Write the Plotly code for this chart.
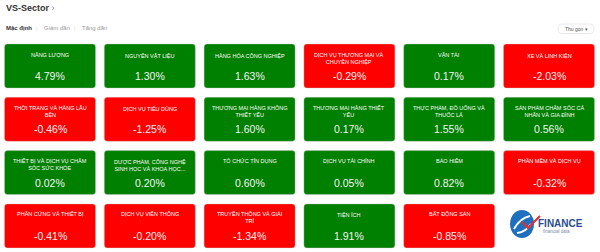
import plotly.graph_objects as go

# ---------------- data ----------------
sectors = [
    "NĂNG LƯỢNG", "NGUYÊN VẬT LIỆU", "HÀNG HÓA CÔNG NGHIỆP",
    "DỊCH VỤ THƯƠNG MẠI VÀ<br>CHUYÊN NGHIỆP", "VẬN TẢI", "XE VÀ LINH KIỆN",
    "THỜI TRANG VÀ HÀNG LÂU<br>BỀN", "DỊCH VỤ TIÊU DÙNG", "THƯƠNG MẠI HÀNG KHÔNG<br>THIẾT YẾU",
    "THƯƠNG MẠI HÀNG THIẾT<br>YẾU", "THỰC PHẨM, ĐỒ UỐNG VÀ<br>THUỐC LÁ", "SẢN PHẨM CHĂM SÓC CÁ<br>NHÂN VÀ GIA ĐÌNH",
    "THIẾT BỊ VÀ DỊCH VỤ CHĂM<br>SÓC SỨC KHỎE", "DƯỢC PHẨM, CÔNG NGHỆ<br>SINH HỌC VÀ KHOA HỌC...", "TỔ CHỨC TÍN DỤNG",
    "DỊCH VỤ TÀI CHÍNH", "BẢO HIỂM", "PHẦN MỀM VÀ DỊCH VỤ",
    "PHẦN CỨNG VÀ THIẾT BỊ", "DỊCH VỤ VIỄN THÔNG", "TRUYỀN THÔNG VÀ GIẢI<br>TRÍ",
    "TIỆN ÍCH", "BẤT ĐỘNG SẢN",
]
changes = [
    4.79, 1.30, 1.63, -0.29, 0.17, -2.03,
    -0.46, -1.25, 1.60, 0.17, 1.55, 0.56,
    0.02, 0.20, 0.60, 0.05, 0.82, -0.32,
    -0.41, -0.20, -1.34, 1.91, -0.85,
]
title_text = "VS-Sector"
tabs = ["Mặc định", "Giảm dần", "Tăng dần"]
dropdown_text = "Thu gọn ▾"

# ---------------- layout constants ----------------
W, H = 600, 252
NCOLS = 6
X0, PX, TW = 4.5, 99.8, 91
Y0, PY, TH = 44, 53.3, 44
RAD = 3
GREEN = "#008000"
RED = "#ff0000"
FONT = "Liberation Sans, Arial, sans-serif"


def rrect(x0, y0, x1, y1, r):
    return (f"M{x0+r},{y0} L{x1-r},{y0} Q{x1},{y0} {x1},{y0+r} "
            f"L{x1},{y1-r} Q{x1},{y1} {x1-r},{y1} L{x0+r},{y1} "
            f"Q{x0},{y1} {x0},{y1-r} L{x0},{y0+r} Q{x0},{y0} {x0+r},{y0} Z")


fig = go.Figure()
shapes = []
annotations = []

for i, (name, v) in enumerate(zip(sectors, changes)):
    c, r = i % NCOLS, i // NCOLS
    x0 = X0 + c * PX
    y0 = Y0 + r * PY
    x1, y1 = x0 + TW, y0 + TH
    col = GREEN if v >= 0 else RED
    shapes.append(dict(type="path", path=rrect(x0, y0, x1, y1, RAD), xref="x", yref="y",
                       fillcolor=col, line=dict(color="rgba(200,200,200,0.6)", width=0.6),
                       layer="below"))
    cx = (x0 + x1) / 2
    annotations.append(dict(x=cx, y=y0 + 5.5, xref="x", yref="y", text=name, showarrow=False,
                            xanchor="center", yanchor="top",
                            font=dict(family=FONT, size=5.5, color="white")))
    annotations.append(dict(x=cx, y=y0 + 32, xref="x", yref="y", text=f"{v:.2f}%", showarrow=False,
                            xanchor="center", yanchor="middle",
                            font=dict(family=FONT, size=10.5, color="#f4f4f4")))

# invisible scatter so axes are driven by data
fig.add_trace(go.Scatter(
    x=[X0 + (i % NCOLS) * PX + TW / 2 for i in range(len(changes))],
    y=[Y0 + (i // NCOLS) * PY + TH / 2 for i in range(len(changes))],
    mode="markers", marker=dict(size=1, opacity=0), hoverinfo="text",
    text=[f"{s.replace('<br>', ' ')}: {v:.2f}%" for s, v in zip(sectors, changes)],
    showlegend=False))

# title
annotations.append(dict(x=4, y=7.5, xref="x", yref="y", text=f"<b>{title_text}</b> <span style='color:#777'>›</span>",
                        showarrow=False, xanchor="left", yanchor="middle",
                        font=dict(family=FONT, size=9, color="#333333")))
# tabs
tab_x = [4, 42, 80]
for k, (t, tx) in enumerate(zip(tabs, tab_x)):
    annotations.append(dict(x=tx, y=28, xref="x", yref="y",
                            text=(f"<b>{t}</b>" if k == 0 else t), showarrow=False,
                            xanchor="left", yanchor="middle",
                            font=dict(family=FONT, size=6, color="#333333" if k == 0 else "#999999")))
for sx in [37, 75]:
    annotations.append(dict(x=sx, y=28, xref="x", yref="y", text="|", showarrow=False,
                            xanchor="center", yanchor="middle",
                            font=dict(family=FONT, size=6, color="#dddddd")))

# dropdown
shapes.append(dict(type="path", path=rrect(558, 24, 594, 33.5, 4.5), xref="x", yref="y",
                   fillcolor="white", line=dict(color="#e2e2e2", width=0.8)))
annotations.append(dict(x=576, y=28.8, xref="x", yref="y", text=dropdown_text, showarrow=False,
                        xanchor="center", yanchor="middle",
                        font=dict(family=FONT, size=5, color="#555555")))

# logo
shapes.append(dict(type="circle", xref="x", yref="y", x0=510, y0=210, x1=534, y1=238,
                   fillcolor="#1f6fc0", line=dict(width=0)))
shapes.append(dict(type="path", xref="x", yref="y",
                   path="M514,229 Q520,218 530,216 M517,233 Q526,232 531,224",
                   line=dict(color="white", width=2)))
shapes.append(dict(type="path", xref="x", yref="y",
                   path="M522,222 L528,228 L540,216",
                   line=dict(color="#e03030", width=2.2)))
annotations.append(dict(x=536, y=223, xref="x", yref="y", text="<b>FINANCE</b>", showarrow=False,
                        xanchor="left", yanchor="middle",
                        font=dict(family=FONT, size=10, color="#2a4d8f")))
annotations.append(dict(x=541, y=231.5, xref="x", yref="y", text="financial data", showarrow=False,
                        xanchor="left", yanchor="middle",
                        font=dict(family=FONT, size=4.5, color="#7a8aa8")))

fig.update_layout(
    width=W, height=H, margin=dict(l=0, r=0, t=0, b=0),
    paper_bgcolor="white", plot_bgcolor="white",
    xaxis=dict(range=[0, W], visible=False, fixedrange=True),
    yaxis=dict(range=[H, 0], visible=False, fixedrange=True),
    shapes=shapes, annotations=annotations, showlegend=False,
)

fig.write_html("out.html", config={"displayModeBar": False})
